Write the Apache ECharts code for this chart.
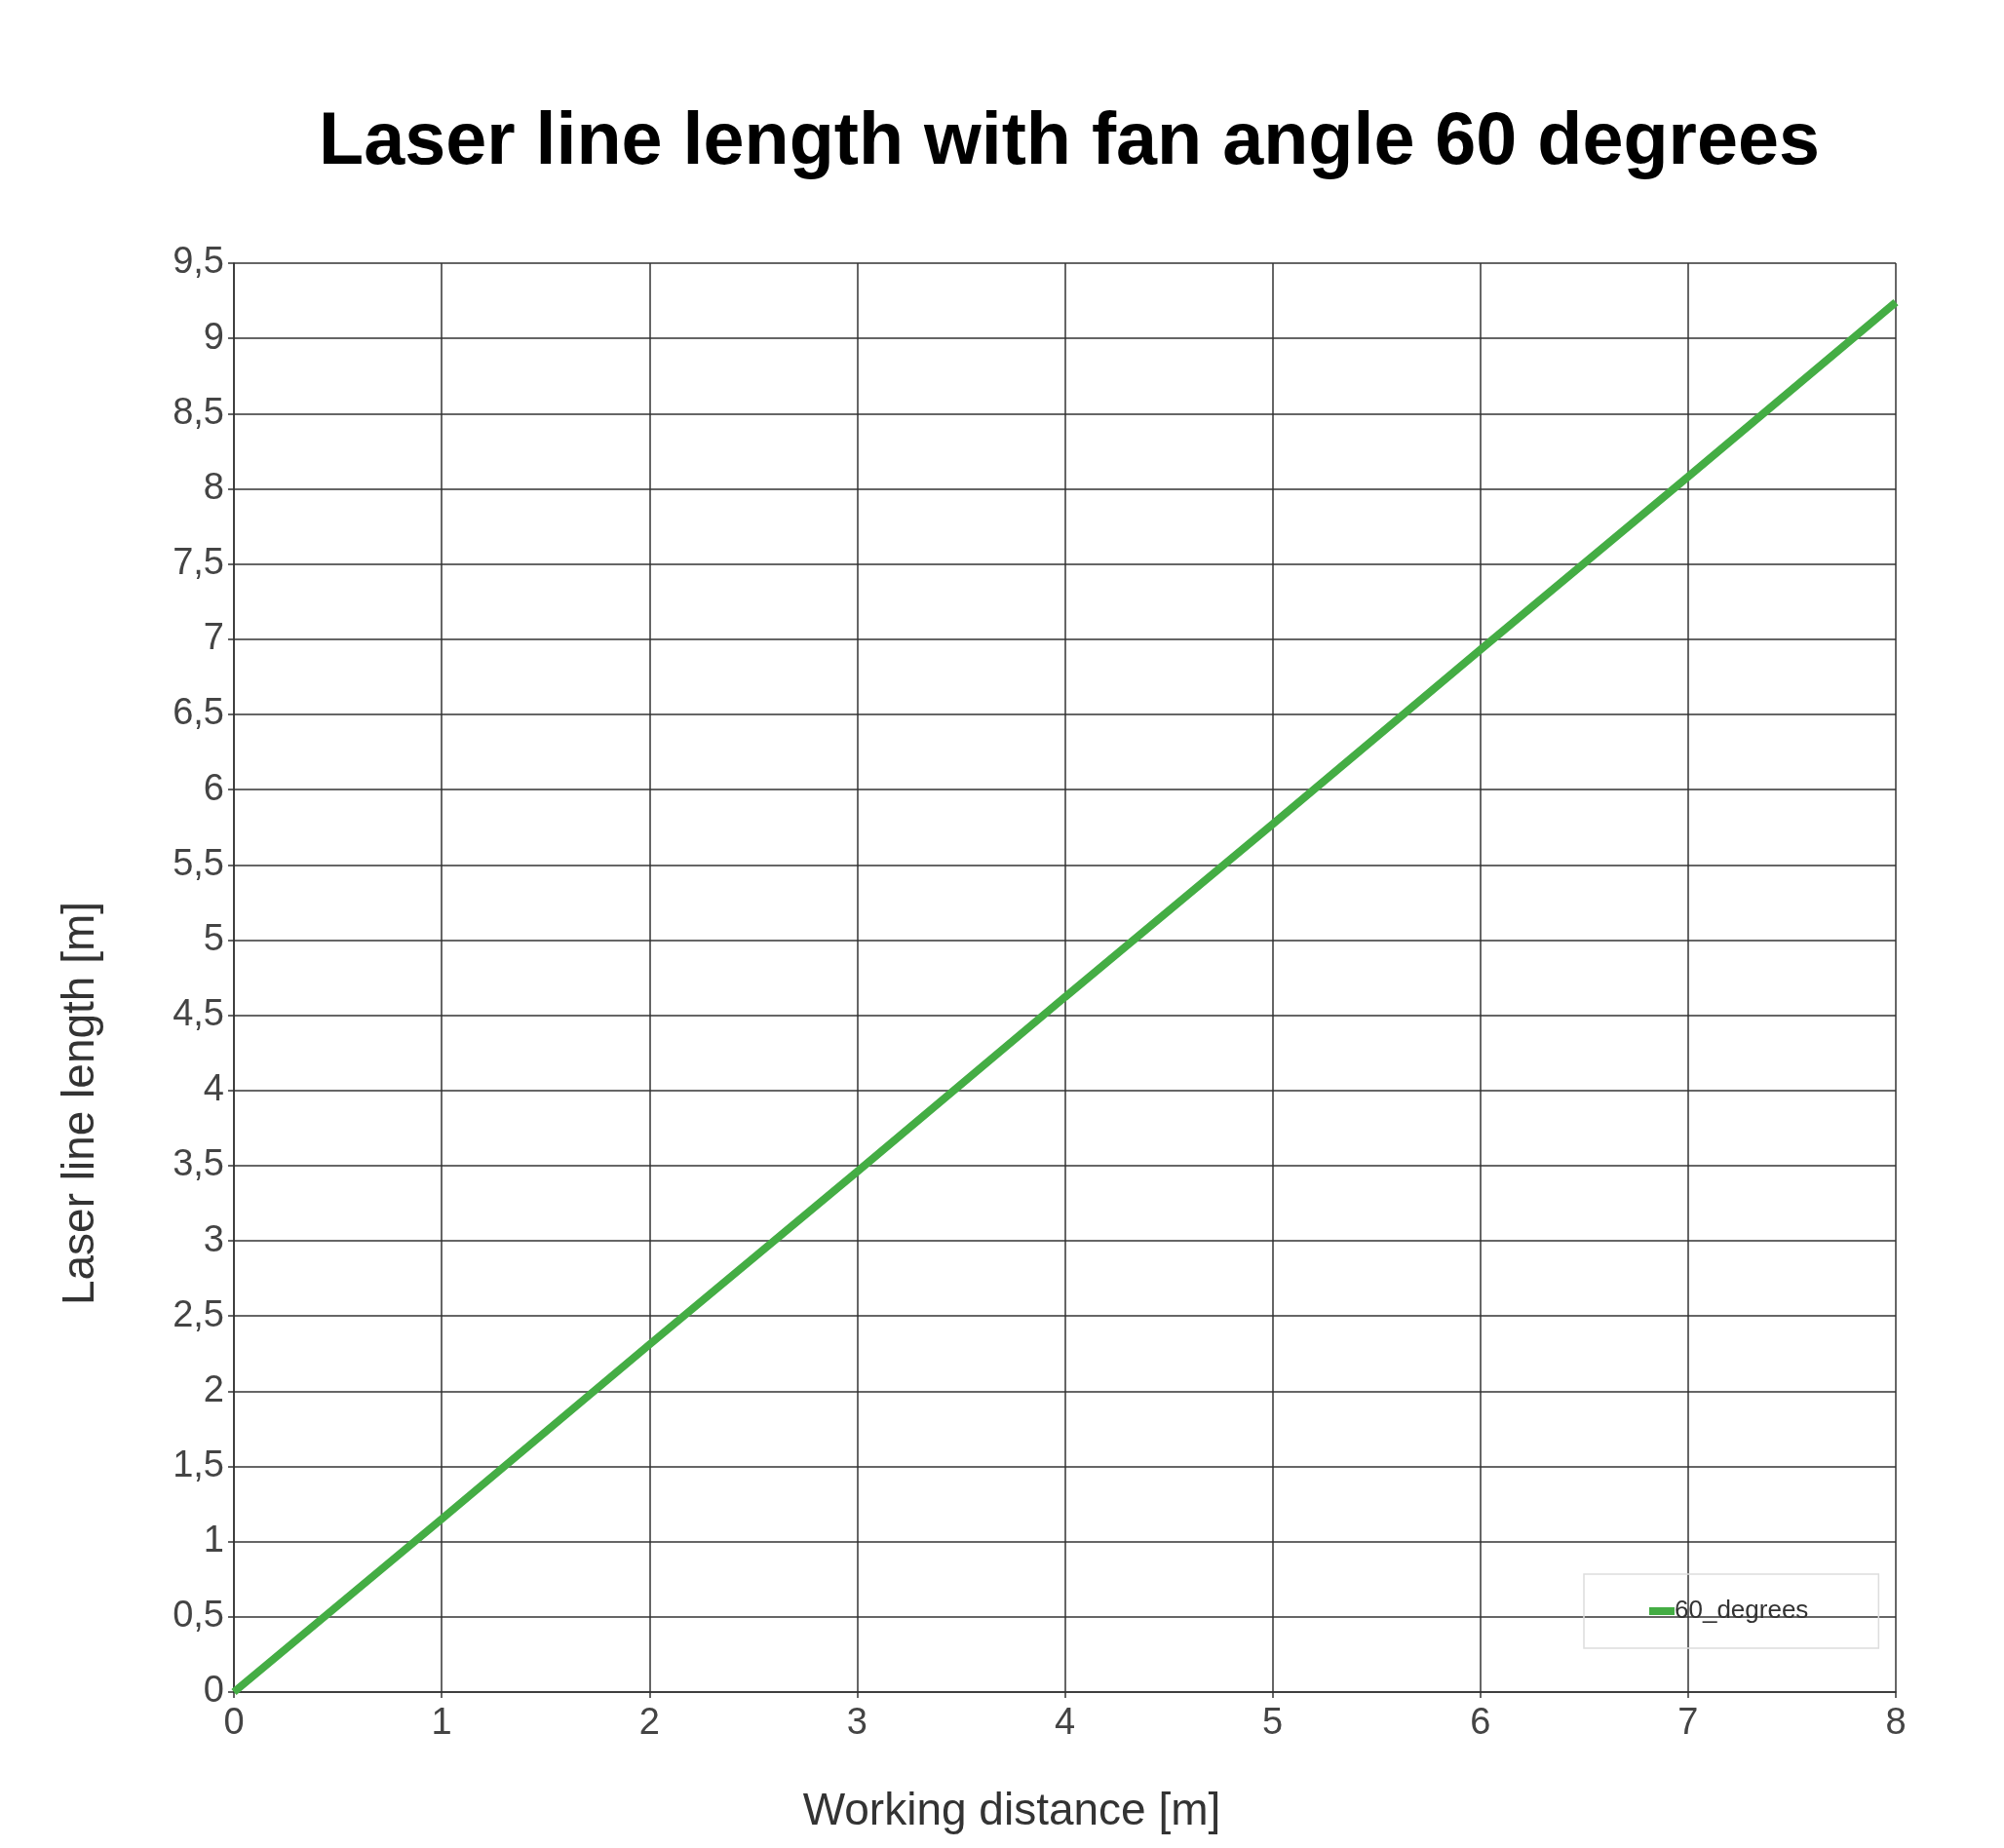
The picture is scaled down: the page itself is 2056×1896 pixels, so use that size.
<!DOCTYPE html>
<html>
<head>
<meta charset="utf-8">
<script src="https://cdn.jsdelivr.net/npm/echarts@6/dist/echarts.min.js"></script>
<style>
html,body{margin:0;padding:0;background:#fff;}
#chart{width:2056px;height:1896px;}
</style>
</head>
<body>
<div id="chart"></div>
<script>
const titleText = 'Laser line length with fan angle 60 degrees';
const xAxisName = 'Working distance [m]';
const yAxisName = 'Laser line length [m]';
const seriesName = '60_degrees';
const distances = [0, 1, 2, 3, 4, 5, 6, 7, 8];
const lineLengths = [0, 1.15, 2.31, 3.46, 4.62, 5.77, 6.93, 8.08, 9.24];

const chart = echarts.init(document.getElementById('chart'), null, {renderer: 'canvas'});
const FONT = 'Liberation Sans, Arial, sans-serif';
const fmt = v => String(v).replace('.', ',');

chart.setOption({
  backgroundColor: '#ffffff',
  animation: false,
  title: {
    text: titleText,
    left: 1092,
    textAlign: 'center',
    top: 104,
    textStyle: {fontFamily: FONT, fontWeight: 'bold', fontSize: 75.5, color: '#000'}
  },
  grid: {left: 240, top: 270, width: 1705, height: 1466, containLabel: false},
  legend: {
    data: [{name: seriesName, icon: 'rect'}],
    left: 1625, top: 1615,
    padding: [25, 72, 25, 67],
    itemWidth: 26, itemHeight: 8, itemGap: 5,
    borderColor: '#dddddd', borderWidth: 1.5,
    textStyle: {fontFamily: FONT, fontSize: 26, color: '#333', padding: [0,0,0,-5]}
  },
  xAxis: {
    type: 'value', min: 0, max: 8, interval: 1,
    axisLine: {show: true, lineStyle: {color: '#333', width: 1.5}},
    axisTick: {show: true, length: 6, lineStyle: {color: '#333', width: 1.5}},
    splitLine: {show: true, lineStyle: {color: '#333', width: 1.5}},
    axisLabel: {fontFamily: FONT, fontSize: 38, color: '#444', margin: 14, formatter: fmt}
  },
  yAxis: {
    type: 'value', min: 0, max: 9.5, interval: 0.5,
    axisLine: {show: true, lineStyle: {color: '#333', width: 1.5}},
    axisTick: {show: true, length: 6, lineStyle: {color: '#333', width: 1.5}},
    splitLine: {show: true, lineStyle: {color: '#333', width: 1.5}},
    axisLabel: {fontFamily: FONT, fontSize: 38, color: '#444', margin: 10, formatter: fmt}
  },
  graphic: [
    {type: 'text', x: 1038, y: 1859, style: {text: xAxisName, font: '46px ' + FONT, fill: '#333', textAlign: 'center', textVerticalAlign: 'middle'}},
    {type: 'text', x: 83, y: 1132, rotation: Math.PI / 2, style: {text: yAxisName, font: '46px ' + FONT, fill: '#333', textAlign: 'center', textVerticalAlign: 'middle'}}
  ],
  series: [{
    name: seriesName,
    type: 'line',
    data: distances.map((d, i) => [d, lineLengths[i]]),
    showSymbol: false,
    lineStyle: {color: '#44ad44', width: 8},
    itemStyle: {color: '#44ad44'},
    clip: false
  }]
});
</script>
</body>
</html>
